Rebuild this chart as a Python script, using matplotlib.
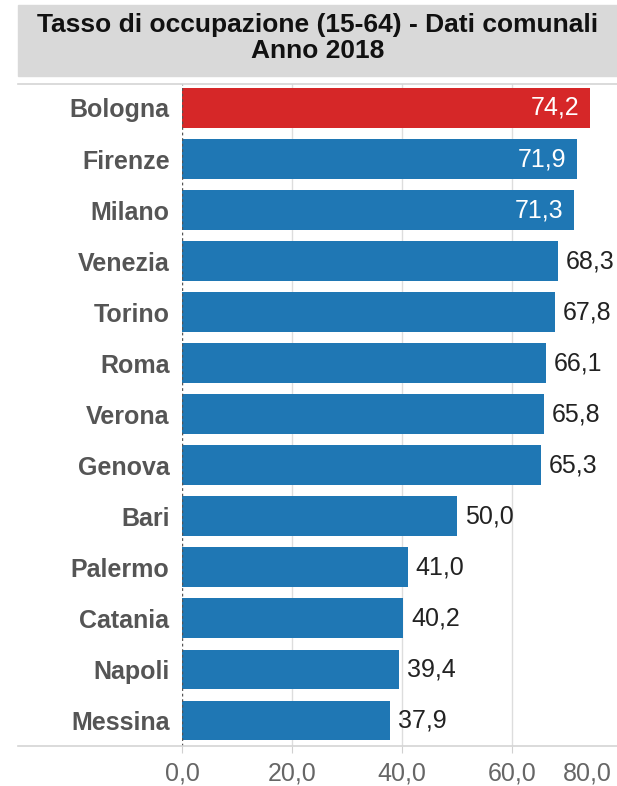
import matplotlib
matplotlib.use("Agg")
import matplotlib.pyplot as plt
from matplotlib.lines import Line2D
from matplotlib.patches import Rectangle

cities = ["Bologna", "Firenze", "Milano", "Venezia", "Torino", "Roma", "Verona",
          "Genova", "Bari", "Palermo", "Catania", "Napoli", "Messina"]
values = [74.2, 71.9, 71.3, 68.3, 67.8, 66.1, 65.8, 65.3, 50.0, 41.0, 40.2, 39.4, 37.9]
ticks = [0, 20, 40, 60, 80]
title = "Tasso di occupazione (15-64) - Dati comunali\nAnno 2018"

BLUE, RED = "#1f77b4", "#d62728"
plt.rcParams["font.family"] = ["Liberation Sans", "DejaVu Sans"]
FS = 18


def it(v):
    return f"{v:.1f}".replace(".", ",")


W, H = 617, 786
fig = plt.figure(figsize=(W / 100, H / 100), dpi=100)
ax = fig.add_axes([182 / W, 1 - 746 / H, 1 - 182 / W, (746 - 84) / H])

ys = list(range(len(cities)))
colors = [RED if c == "Bologna" else BLUE for c in cities]
ax.barh(ys, values, height=0.78, color=colors, zorder=3)
for y, v in zip(ys, values):
    if v > 70:
        ax.text(v - 2.0, y, it(v), ha="right", va="center", color="white", fontsize=FS, zorder=4)
    else:
        ax.text(v + 1.45, y, it(v), ha="left", va="center", color="#222222", fontsize=FS, zorder=4)

ax.set_xlim(0, (W - 182) / 5.5)
ax.set_ylim(len(cities) - 0.5, -0.47)
ax.set_yticks(ys)
ax.set_yticklabels(cities, fontsize=FS, fontweight="bold", color="#555555")
ax.tick_params(axis="y", length=0, pad=9)
ax.set_xticks(ticks[:-1])
ax.set_xticklabels([it(t) for t in ticks[:-1]], fontsize=FS, color="#666666")
ax.tick_params(axis="x", length=5, color="#d0d0d0", pad=6)
# last tick label is pulled inside the plot area
ax.text(1.0 - 5 / (W - 182), -16 / (746 - 84), it(ticks[-1]), transform=ax.transAxes,
        ha="right", va="top", fontsize=FS, color="#666666")

for t in ticks[1:-1]:
    ax.axvline(t, color="#dddddd", lw=1, zorder=1)
ax.axvline(0, color="#555555", lw=1, ls=(0, (2, 2)), zorder=4)
for s in ax.spines.values():
    s.set_visible(False)

# title box and horizontal rules
fig.patches.append(Rectangle((18 / W, 1 - 76 / H), 1 - 18 / W, 71 / H,
                             transform=fig.transFigure, color="#d9d9d9", zorder=0))
fig.text((18 + W) / 2 / W, 1 - 38 / H, title, ha="center", va="center",
         fontsize=19, fontweight="bold", color="#111111", linespacing=1.08)
for yy in (84, 746):
    fig.lines.append(Line2D([18 / W, 1], [1 - yy / H] * 2, transform=fig.transFigure,
                            color="#d4d4d4", lw=1.2))

fig.savefig("out.png", dpi=100)
